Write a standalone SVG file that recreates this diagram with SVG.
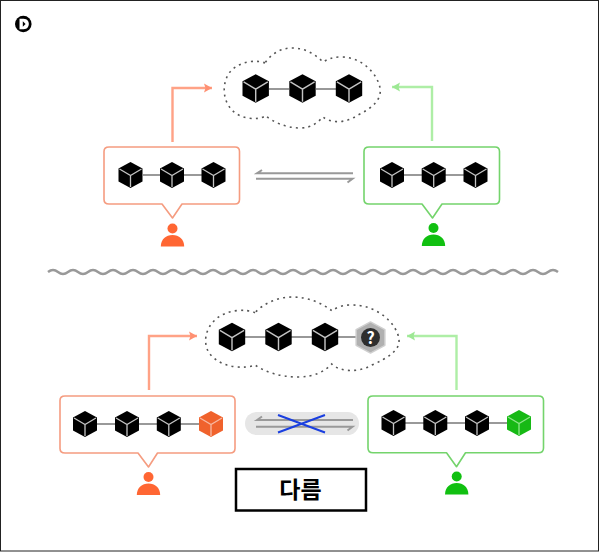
<svg xmlns="http://www.w3.org/2000/svg" width="600" height="552" viewBox="0 0 600 552">
<style>
.cloud{fill:none;stroke:#555;stroke-width:1.6;stroke-dasharray:2 4.200}
.chain{stroke:#777;stroke-width:1.6;fill:none}
.box{fill:#fff;stroke-width:1.6;stroke-linejoin:round}
.or{stroke:#f59c80}
.gr{stroke:#74d46c}
.fl{fill:none;stroke-width:2.4}
.fo{stroke:#ffa286}
.fg{stroke:#aeeea6}
.ex{fill:none;stroke:#999;stroke-width:2}
.wave{fill:none;stroke:#999;stroke-width:2.4}
.x{stroke:#1a3fe0;stroke-width:2;fill:none}
.facet{fill:none;stroke:#c4c4c4;stroke-width:1.3}
.facet-o{fill:none;stroke:#f7b9a2;stroke-width:1.3}
.facet-g{fill:none;stroke:#8fe58a;stroke-width:1.3}
text{font-family:"Noto Sans CJK KR","Liberation Sans",sans-serif}
</style>
<defs>
<path id="hex" d="M0-13 12-6.5V6.5L0 13-12 6.5V-6.5Z" stroke-linejoin="round"/>
<path id="fac" d="M0 12V0.5M-11-6 0 0.5 11-6"/>
<g id="cube"><use href="#hex" fill="#000"/><use href="#fac" class="facet"/></g>
<g id="cube-o"><use href="#hex" fill="#f0622c"/><use href="#fac" class="facet-o"/></g>
<g id="cube-g"><use href="#hex" fill="#17b915"/><use href="#fac" class="facet-g"/></g>
<g id="person"><circle cx="0" cy="-6" r="5"/><path d="M-11.700 12C-11.500 4.500-6.500 0.500 0 0.500S11.500 4.500 11.700 12Z"/></g>
<marker id="ao" markerUnits="userSpaceOnUse" markerWidth="10" markerHeight="12" refX="8" refY="6" orient="auto"><path d="M0 1.500 8 6 0 10.500 1.500 6Z" fill="#ff9072"/></marker>
<marker id="ag" markerUnits="userSpaceOnUse" markerWidth="10" markerHeight="12" refX="8" refY="6" orient="auto"><path d="M0 1.500 8 6 0 10.500 1.500 6Z" fill="#9de894"/></marker>
</defs>
<rect width="600" height="552" fill="#fff"/>
<rect x="0.500" y="0.500" width="598" height="550.500" fill="none" stroke="#222" stroke-width="1"/>
<g id="logo"><circle cx="23.300" cy="24" r="8.300" fill="#000"/><path d="M19.500 18.800H23.500C27.500 18.800 28.800 21.800 28.800 24S27.500 29.200 23.500 29.200H19.500Z" fill="#fff"/><path d="M22.800 21.200 25.600 24 22.800 26.800Z" fill="#000"/></g>
<g id="connectors">
<path class="fl fo" d="M172.500 142V88H212" marker-end="url(#ao)"/>
<path class="fl fg" d="M432 141V87H392" marker-end="url(#ag)"/>
<path class="fl fo" d="M149 390V336H197" marker-end="url(#ao)"/>
<path class="fl fg" d="M456.500 390V336H407" marker-end="url(#ag)"/>
<path class="ex" d="M353 173.300H257L262 170"/>
<path class="ex" d="M256 178.800H352.500L347.500 182.500"/>
<path class="wave" d="M48 272q5-4 10 0t10 0 10 0 10 0 10 0 10 0 10 0 10 0 10 0 10 0 10 0
10 0 10 0 10 0 10 0 10 0 10 0 10 0 10 0 10 0 10 0
10 0 10 0 10 0 10 0 10 0 10 0 10 0 10 0 10 0 10 0
10 0 10 0 10 0 10 0 10 0 10 0 10 0 10 0 10 0 10 0
10 0 10 0 10 0 10 0 10 0 10 0 10 0 10 0 10 0 10 0"/>
</g>
<g id="cloud-top">
<path class="cloud" d="M265 63C258 60 240 60 230 72 222 82 222 100 232 110 240 119 258 121 265.500 115.700 272 121 285 128 300 128 312 128 318 122 323 117 330 123 345 124 358 115 372 108 382 100 380 88 378 75 362 56 340 57 333 57 328 59 323 62 315 54 305 48 292 48 280 48 270 55 265 63Z"/>
<use href="#cube" transform="translate(255.700 88.500) scale(1.100)"/>
<path class="chain" d="M269 89H289M316 89H336"/>
<use href="#cube" transform="translate(302.500 88.500) scale(1.100)"/>
<use href="#cube" transform="translate(349 88.500) scale(1.100)"/>
</g>
<g id="box-orange-top">
<path class="box or" d="M109 147H235Q239.500 147 239.500 151.500V199.500Q239.500 204 235 204H182L172.500 218 162 204H109Q104 204 104 199.500V151.500Q104 147 109 147Z"/>
<path class="chain" d="M143 175H203"/>
<use href="#cube" transform="translate(130.500 175)"/>
<use href="#cube" transform="translate(172 175)"/>
<use href="#cube" transform="translate(213.500 175)"/>
</g>
<g id="person-orange-top" fill="#ff6633"><use href="#person" transform="translate(172.500 234.500)"/></g>
<g id="box-green-top">
<path class="box gr" d="M369 147H495Q499.500 147 499.500 151.500V199.500Q499.500 204 495 204H442L432.500 218 422 204H369Q364 204 364 199.500V151.500Q364 147 369 147Z"/>
<path class="chain" d="M404 175H464"/>
<use href="#cube" transform="translate(392 175)"/>
<use href="#cube" transform="translate(433.700 175)"/>
<use href="#cube" transform="translate(475.500 175)"/>
</g>
<g id="person-green-top" fill="#11c011"><use href="#person" transform="translate(433.500 234)"/></g>
<g id="cloud-bottom">
<path class="cloud" d="M255 312.700C248 309 225 308 213 322 203 333 203 350 214 358 225 368 245 369 255 365 265 372 280 377 298 377 315 377 325 371 331.700 364 340 372 358 373 372 365 388 358 400 350 399 340 398 325 378 304 350 305 342 305 336 308 331.700 310.700 322 303 308 297 292 297 277 297 263 304 255 312.700Z"/>
<path class="chain" d="M245 337H266M291 337H312M338 337H357"/>
<use href="#cube" transform="translate(232 337) scale(1.100)"/>
<use href="#cube" transform="translate(278.500 337) scale(1.100)"/>
<use href="#cube" transform="translate(325 337) scale(1.100)"/>
<g id="unknown-block">
<use href="#hex" transform="translate(370.500 337.500) scale(1.200)" fill="#b0b0b0" stroke="#cfcfcf" stroke-width="1.200"/>
<circle cx="370.500" cy="337.500" r="9.500" fill="#2e2e2e"/>
<text x="370.500" y="343.500" font-size="16" font-weight="700" fill="#fff" text-anchor="middle">?</text>
</g>
</g>
<g id="box-orange-bottom">
<path class="box or" d="M65 396H230Q235 396 235 400.500V448.500Q235 453 230 453H157.500L148.500 467 138 453H65Q60 453 60 448.500V400.500Q60 396 65 396Z"/>
<path class="chain" d="M97 424H200"/>
<use href="#cube" transform="translate(85 424)"/>
<use href="#cube" transform="translate(127 424)"/>
<use href="#cube" transform="translate(168.800 424)"/>
<use href="#cube-o" transform="translate(211 424)"/>
</g>
<g id="person-orange-bottom" fill="#ff6633"><use href="#person" transform="translate(148.500 483)"/></g>
<g id="no-exchange">
<rect x="245" y="412" width="114" height="23" rx="11.500" fill="#e6e6e6"/>
<path class="ex" d="M353 420H257L262 416.500"/>
<path class="ex" d="M256 426.700H352.500L347.500 430.500"/>
<path class="x" d="M278 415 325 432.500M278 432.500 325 415"/>
</g>
<g id="box-green-bottom">
<path class="box gr" d="M373 396H538.500Q543.500 396 543.500 400.500V448Q543.500 452.700 538.500 452.700H465.500L456.500 466.700 446.500 452.700H373Q368 452.700 368 448V400.500Q368 396 373 396Z"/>
<path class="chain" d="M405 423H508"/>
<use href="#cube" transform="translate(393.500 423)"/>
<use href="#cube" transform="translate(435.300 423)"/>
<use href="#cube" transform="translate(477 423)"/>
<use href="#cube-g" transform="translate(519 423)"/>
</g>
<g id="person-green-bottom" fill="#11c011"><use href="#person" transform="translate(456.700 482.500)"/></g>
<g id="label">
<rect x="236" y="469" width="130" height="41.500" fill="#fff" stroke="#000" stroke-width="2.500"/>
<text x="300.500" y="498" font-size="23" font-weight="700" fill="#000" text-anchor="middle">다름</text>
</g>
</svg>
